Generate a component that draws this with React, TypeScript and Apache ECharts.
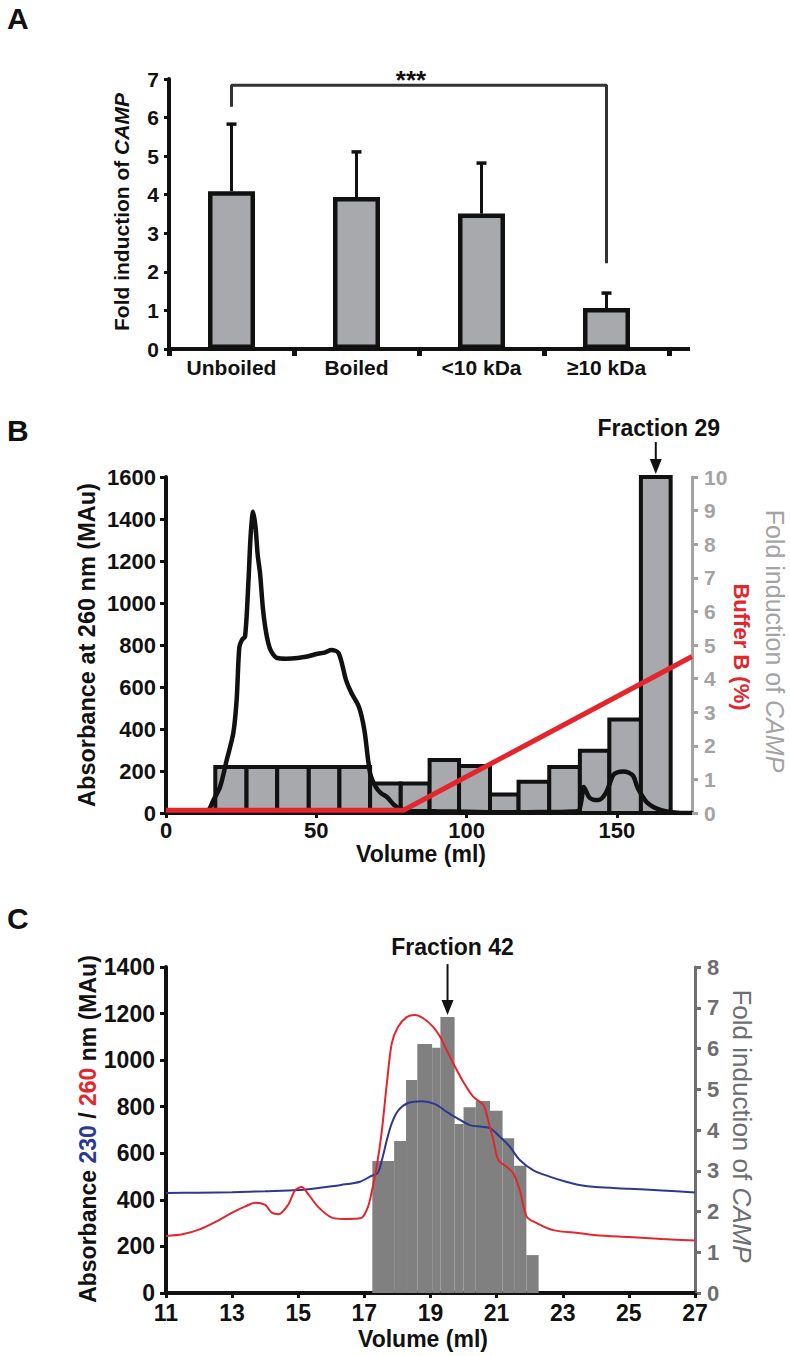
import React, { useEffect, useRef } from "react";
import * as echarts from "echarts";

const FONT = "'Liberation Sans', Arial, Helvetica, sans-serif";

// ---------------- Panel A ----------------
const aCategories = ["Unboiled", "Boiled", "<10 kDa", "≥10 kDa"];
const aMeans = [4.09, 3.94, 3.51, 1.06];
const aErrors = [1.74, 1.17, 1.31, 0.39];
const aBracketX = ["Unboiled", "Unboiled", "≥10 kDa", "≥10 kDa"];
const aBracketY = [6.28, 6.84, 6.84, 2.22];
const aSignificance = "***";

// ---------------- Panel B ----------------
const bFractionEdges = [16.4, 26.8, 37.0, 47.5, 57.7, 67.9, 78.1, 87.7, 97.5, 107.8, 117.3, 127.5, 137.7, 147.5, 158.0, 167.9];
const bFold = [1.37, 1.37, 1.37, 1.37, 1.37, 0.88, 0.88, 1.58, 1.4, 0.55, 0.93, 1.37, 1.85, 2.78, 10];
const bHighlightIndex = 14;
const bHighlightLabel = "Fraction 29";
const bVolume = [12, 14, 15.8, 18, 20.2, 22.4, 23.5, 24.4, 25.3, 26.3, 27.4, 28.2, 29, 29.8, 30.5, 31.3, 32.2, 33, 34, 35, 37, 40, 43.8, 47, 50, 53, 55, 57.4, 59.9, 61.7, 64.2, 66, 67.9, 69.8, 71.5, 73.5, 75.9, 78, 81, 90, 100, 110, 120, 130, 137, 138.2, 139, 140.7, 142, 143.8, 146.3, 148.8, 150.5, 152, 154, 155.5, 156.8, 158.5, 159.9, 162, 164.8, 168, 172, 175];
const bAbs260 = [0, 10, 62, 125, 252, 381, 538, 790, 825, 840, 1095, 1330, 1435, 1360, 1230, 1140, 980, 886, 810, 770, 738, 735, 738, 745, 757, 765, 776, 762, 633, 571, 505, 395, 190, 124, 95, 76, 38, 20, 10, 8, 6, 4, 4, 5, 8, 60, 124, 76, 64, 62, 95, 181, 195, 198, 192, 175, 124, 80, 52, 30, 14, 5, 0, 0];
const bBufferVolume = [0, 79, 175];
const bBufferB = [0.08, 0.08, 4.66];
const bXTicks = [0, 50, 100, 150];

// ---------------- Panel C ----------------
const cFractionStart = [17.24, 17.9, 18.26, 18.6, 19.05, 19.3, 19.73, 20.0, 20.37, 20.8, 21.18, 21.53, 21.9];
const cFractionEnd = [17.9, 18.26, 18.6, 19.05, 19.3, 19.73, 20.0, 20.37, 20.8, 21.18, 21.53, 21.9, 22.27];
const cFold = [3.24, 3.73, 5.23, 6.11, 6.02, 6.77, 4.15, 4.56, 4.71, 4.47, 3.8, 3.12, 0.93];
const cHighlightIndex = 5;
const cHighlightLabel = "Fraction 42";
const c260Volume = [11, 11.5, 12, 12.5, 13, 13.4, 13.7, 14.0, 14.2, 14.4, 14.7, 14.9, 15.1, 15.3, 15.6, 16.0, 16.4, 16.9, 17.07, 17.17, 17.37, 17.52, 17.68, 17.83, 18.02, 18.28, 18.53, 18.78, 19.08, 19.29, 19.49, 19.74, 19.99, 20.29, 20.6, 20.74, 20.9, 21.05, 21.3, 21.5, 21.7, 21.91, 22.21, 22.71, 23.52, 24, 25, 26, 27];
const c260Abs = [245, 252, 272, 305, 345, 372, 388, 378, 345, 338, 380, 440, 455, 425, 370, 325, 318, 322, 356, 400, 542, 687, 900, 1073, 1143, 1185, 1194, 1180, 1143, 1100, 1043, 972, 907, 843, 807, 743, 657, 571, 542, 515, 442, 328, 300, 270, 257, 248, 240, 232, 225];
const c230Volume = [11, 12, 13, 14, 15, 15.66, 16.3, 16.87, 17.17, 17.4, 17.53, 17.68, 17.83, 18.04, 18.34, 18.74, 19.14, 19.49, 19.8, 20.19, 20.55, 20.8, 21.1, 21.4, 21.7, 22.1, 22.6, 23.1, 23.5, 24, 25, 26, 27];
const c230Abs = [429, 431, 433, 437, 442, 452, 464, 478, 500, 515, 571, 657, 730, 786, 817, 824, 811, 778, 751, 721, 714, 708, 671, 628, 571, 528, 500, 478, 464, 455, 448, 440, 432];

// ---------------- Layout ----------------
const W = 790;
const H = 1356;
const GRID_A = { left: 169, right: 121, top: 79, bottom: 1007 };
const GRID_B = { left: 166, right: 98, top: 477, bottom: 543 };
const GRID_C = { left: 166, right: 95, top: 967, bottom: 63 };
const INK = "#111111";
const GRAY_B = "#a3a3a3";
const GRAY_C = "#6d6e71";
const RED = "#e3262e";
const BLUE = "#2b3a8f";

const plain = (v: number) => String(v);

function axisStyle(color: string, lineWidth: number, tickLen: number, labelSize: number, margin: number) {
  return {
    axisLine: { show: true, onZero: false, lineStyle: { color, width: lineWidth } },
    axisTick: { show: true, length: tickLen, lineStyle: { color, width: 3 } },
    axisLabel: { fontFamily: FONT, fontWeight: "bold", fontSize: labelSize, color, margin, formatter: plain },
    splitLine: { show: false },
  };
}

function barsRenderer(fill: string, stroke: string | null, lineWidth: number) {
  return (params: any, api: any) => {
    const tl = api.coord([api.value(0), api.value(2)]);
    const br = api.coord([api.value(1), 0]);
    return {
      type: "rect",
      shape: { x: tl[0], y: tl[1], width: br[0] - tl[0], height: br[1] - tl[1] },
      style: stroke ? { fill, stroke, lineWidth } : { fill },
    };
  };
}

function buildOption() {
  const bBars = bFold.map((v, i) => [bFractionEdges[i], bFractionEdges[i + 1], v]);
  const cBars = cFold.map((v, i) => [cFractionStart[i], cFractionEnd[i], v]);
  return {
    animation: false,
    backgroundColor: "#ffffff",
    textStyle: { fontFamily: FONT },
    grid: [GRID_A, GRID_B, GRID_C].map((g) => ({ ...g, containLabel: false })),
    xAxis: [
      {
        gridIndex: 0,
        type: "category",
        data: aCategories,
        ...axisStyle(INK, 4, 7, 21, 8),
        axisTick: { show: true, length: 7, lineStyle: { color: INK, width: 5 } },
        axisLabel: { fontFamily: FONT, fontWeight: "bold", fontSize: 21, color: INK, margin: 8, interval: 0 },
      },
      {
        gridIndex: 1,
        type: "value",
        min: 0,
        max: 175,
        interval: 50,
        ...axisStyle(INK, 4, 5, 22, 6),
        axisTick: { show: true, length: 5, lineStyle: { color: INK, width: 3 }, customValues: bXTicks },
        axisLabel: { fontFamily: FONT, fontWeight: "bold", fontSize: 22, color: INK, margin: 6, customValues: bXTicks, formatter: plain },
      },
      {
        gridIndex: 2,
        type: "value",
        min: 11,
        max: 27,
        interval: 2,
        ...axisStyle(INK, 4, 5, 23, 8),
      },
    ],
    yAxis: [
      { gridIndex: 0, type: "value", min: 0, max: 7, interval: 1, ...axisStyle(INK, 4, 5, 21, 10) },
      { gridIndex: 1, type: "value", min: 0, max: 1600, interval: 200, ...axisStyle(INK, 4, 6, 22, 10) },
      { gridIndex: 1, type: "value", position: "right", min: 0, max: 10, interval: 1, ...axisStyle(GRAY_B, 3, 6, 21, 12) },
      { gridIndex: 2, type: "value", min: 0, max: 1400, interval: 200, ...axisStyle(INK, 4, 6, 23, 11) },
      { gridIndex: 2, type: "value", position: "right", min: 0, max: 8, interval: 1, ...axisStyle(GRAY_C, 3, 6, 22, 12) },
    ],
    series: [
      // 0: A bars
      {
        type: "bar",
        xAxisIndex: 0,
        yAxisIndex: 0,
        data: aMeans,
        barWidth: 47,
        itemStyle: { color: "#a7a9ac", borderColor: INK, borderWidth: 4.5 },
        z: 3,
      },
      // 1: A error bars
      {
        type: "custom",
        xAxisIndex: 0,
        yAxisIndex: 0,
        z: 2,
        data: aMeans.map((m, i) => [i, m, m + aErrors[i]]),
        encode: { x: 0, y: [1, 2] },
        renderItem: (params: any, api: any) => {
          const lo = api.coord([api.value(0), api.value(1)]);
          const hi = api.coord([api.value(0), api.value(2)]);
          return {
            type: "group",
            children: [
              { type: "line", shape: { x1: lo[0], y1: lo[1], x2: hi[0], y2: hi[1] }, style: { stroke: INK, lineWidth: 3 } },
              { type: "line", shape: { x1: hi[0] - 5, y1: hi[1], x2: hi[0] + 5, y2: hi[1] }, style: { stroke: INK, lineWidth: 3.5 } },
            ],
          };
        },
      },
      // 2: A significance bracket
      {
        type: "line",
        xAxisIndex: 0,
        yAxisIndex: 0,
        data: aBracketX.map((c, i) => [aCategories.indexOf(c), aBracketY[i]]),
        symbol: "none",
        lineStyle: { color: "#333333", width: 3 },
        z: 4,
      },
      // 3: B fraction bars
      {
        type: "custom",
        xAxisIndex: 1,
        yAxisIndex: 2,
        data: bBars,
        encode: { x: [0, 1], y: 2 },
        renderItem: barsRenderer("#a7a9ac", INK, 4),
        z: 2,
      },
      // 4: B absorbance
      {
        type: "line",
        xAxisIndex: 1,
        yAxisIndex: 1,
        data: bVolume.map((v, i) => [v, bAbs260[i]]),
        symbol: "none",
        smooth: 0.3,
        lineStyle: { color: INK, width: 4.5 },
        z: 4,
      },
      // 5: B buffer B gradient
      {
        type: "line",
        xAxisIndex: 1,
        yAxisIndex: 2,
        data: bBufferVolume.map((v, i) => [v, bBufferB[i]]),
        symbol: "none",
        lineStyle: { color: RED, width: 5 },
        z: 5,
      },
      // 6: C fraction bars
      {
        type: "custom",
        xAxisIndex: 2,
        yAxisIndex: 4,
        data: cBars,
        encode: { x: [0, 1], y: 2 },
        renderItem: barsRenderer("#808080", null, 0),
        z: 2,
      },
      // 7: C 230 nm
      {
        type: "line",
        xAxisIndex: 2,
        yAxisIndex: 3,
        data: c230Volume.map((v, i) => [v, c230Abs[i]]),
        symbol: "none",
        smooth: 0.3,
        lineStyle: { color: BLUE, width: 2 },
        z: 4,
      },
      // 8: C 260 nm
      {
        type: "line",
        xAxisIndex: 2,
        yAxisIndex: 3,
        data: c260Volume.map((v, i) => [v, c260Abs[i]]),
        symbol: "none",
        smooth: 0.3,
        lineStyle: { color: RED, width: 2 },
        z: 5,
      },
    ],
  };
}

function txt(x: number, y: number, text: string, o: any = {}) {
  return {
    type: "text",
    x,
    y,
    rotation: o.rotation || 0,
    z: 100,
    style: {
      text,
      fontFamily: FONT,
      fontSize: o.size || 22,
      fontWeight: o.weight || "bold",
      fontStyle: o.fontStyle || "normal",
      fill: o.color || INK,
      align: o.align || "center",
      verticalAlign: "middle",
      rich: o.rich,
    },
  };
}

function rich(size: number, color: string, weight: string, fontStyle = "normal") {
  return { fontFamily: FONT, fontSize: size, fill: color, fontWeight: weight, fontStyle };
}

function arrow(x: number, yFrom: number, yTip: number) {
  return [
    { type: "line", z: 100, shape: { x1: x, y1: yFrom, x2: x, y2: yTip - 10 }, style: { stroke: INK, lineWidth: 2 } },
    { type: "polygon", z: 100, shape: { points: [[x - 6, yTip - 15], [x + 6, yTip - 15], [x, yTip]] }, style: { fill: INK } },
  ];
}

function buildGraphics(chart: any) {
  const g: any[] = [];
  // panel letters
  g.push(txt(7, 18, "A", { size: 30, align: "left" }));
  g.push(txt(7, 430, "B", { size: 30, align: "left" }));
  g.push(txt(7, 918, "C", { size: 30, align: "left" }));

  // ---- A ----
  const aAxisY = H - GRID_A.bottom;
  g.push({ type: "line", z: 50, shape: { x1: W - GRID_A.right, y1: aAxisY, x2: 690, y2: aAxisY }, style: { stroke: INK, lineWidth: 4 } });
  g.push(
    txt(121, 212, "{a|Fold induction of }{b|CAMP}", {
      rotation: Math.PI / 2,
      size: 21,
      rich: { a: rich(21, INK, "bold"), b: rich(21, INK, "bold", "italic") },
    })
  );
  g.push(txt(411, 80, aSignificance, { size: 26 }));

  // ---- B ----
  g.push(txt(87, 645, "Absorbance at 260 nm (MAu)", { rotation: Math.PI / 2, size: 23.5 }));
  g.push(txt(741, 647, "Buffer B (%)", { rotation: -Math.PI / 2, size: 22, color: RED }));
  g.push(
    txt(775, 641, "{a|Fold induction of }{b|CAMP}", {
      rotation: -Math.PI / 2,
      size: 25,
      rich: { a: rich(25, GRAY_B, "normal"), b: rich(25, GRAY_B, "normal", "italic") },
    })
  );
  g.push(txt(421, 854, "Volume (ml)", { size: 23 }));
  const bCenter = (bFractionEdges[bHighlightIndex] + bFractionEdges[bHighlightIndex + 1]) / 2;
  const bTop = chart.convertToPixel({ seriesIndex: 3 }, [bCenter, bFold[bHighlightIndex]]);
  g.push(txt(bTop[0] + 3, bTop[1] - 49, bHighlightLabel, { size: 23 }));
  g.push(...arrow(bTop[0], bTop[1] - 35, bTop[1] - 3));

  // ---- C ----
  g.push(
    txt(88, 1129, "{a|Absorbance }{b|230}{a| / }{c|260}{a| nm (MAu)}", {
      rotation: Math.PI / 2,
      size: 23,
      rich: { a: rich(23, INK, "bold"), b: rich(23, BLUE, "bold"), c: rich(23, RED, "bold") },
    })
  );
  g.push(
    txt(742, 1126, "{a|Fold induction of }{b|CAMP}", {
      rotation: -Math.PI / 2,
      size: 26,
      rich: { a: rich(26, GRAY_C, "normal"), b: rich(26, GRAY_C, "normal", "italic") },
    })
  );
  g.push(txt(423, 1339, "Volume (ml)", { size: 23 }));
  const cCenter = (cFractionStart[cHighlightIndex] + cFractionEnd[cHighlightIndex]) / 2;
  const cTop = chart.convertToPixel({ seriesIndex: 6 }, [cCenter, cFold[cHighlightIndex]]);
  g.push(txt(cTop[0] + 5, cTop[1] - 70, cHighlightLabel, { size: 23 }));
  g.push(...arrow(cTop[0], cTop[1] - 53, cTop[1] - 2));
  return g;
}

export default function App() {
  const ref = useRef<HTMLDivElement>(null);
  useEffect(() => {
    document.body.style.margin = "0";
    const chart = echarts.init(ref.current as HTMLDivElement, undefined, { renderer: "svg" });
    chart.setOption(buildOption() as any);
    chart.setOption({ graphic: buildGraphics(chart) } as any);
    return () => chart.dispose();
  }, []);
  return <div ref={ref} style={{ width: W, height: H, background: "#fff" }} />;
}
